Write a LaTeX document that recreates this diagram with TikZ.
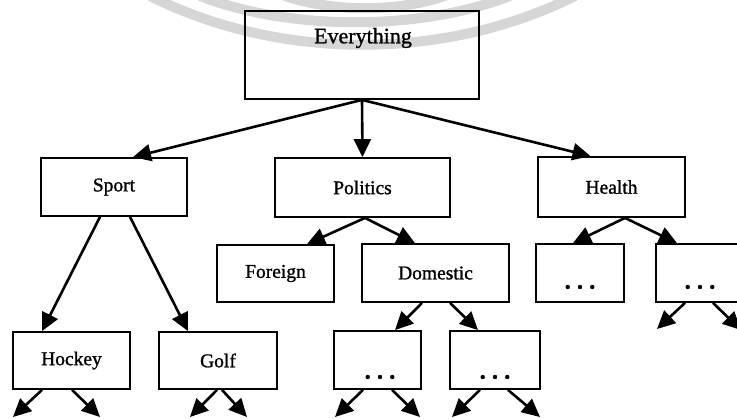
\documentclass[tikz,border=0pt]{standalone}
\usepackage{fontspec}
\setmainfont{Liberation Serif}
\newfontfamily\heavyserif{Liberation Serif}[FakeBold=1.2]
\usetikzlibrary{arrows.meta,calc}
\begin{document}
\begin{tikzpicture}[x=1pt,y=-1pt,
  box/.style={draw=black,line width=1.8pt,inner sep=0pt,font=\heavyserif\fontsize{19.5}{19.5}\selectfont},
  lbl/.style={inner sep=0pt,font=\heavyserif\fontsize{19.5}{19.5}\selectfont},
  dots/.style={inner sep=0pt,font=\heavyserif\bfseries\fontsize{25}{25}\selectfont},
  con/.style={line width=2.6pt,-{Triangle[length=18pt,width=17pt]}},
  wm/.style={line width=10pt,color=black!16}]
\useasboundingbox (0,0) rectangle (737,419);
\clip (0,0) rectangle (737,419);
% watermark arcs
\draw[wm] (150,-4) .. controls (280,61) and (445,61) .. (575,-4);
\draw[wm] (200,-4) .. controls (290,31) and (420,31) .. (510,-4);
\draw[wm] (280,-6) .. controls (330,13) and (400,13) .. (450,-6);
% nodes
\node[box,minimum width=234,minimum height=88] (ev) at (362,55) {};
\node[lbl,font=\heavyserif\fontsize{22}{22}\selectfont] (evt) at (363,38) {Everything};
\node[box,minimum width=146,minimum height=58] (sp) at (114,187) {Sport};
\node[box,minimum width=175,minimum height=59] (po) at (362.5,187.5) {Politics};
\node[box,minimum width=147,minimum height=60] (he) at (611.5,187) {Health};
\node[box,minimum width=117,minimum height=57] (fo) at (275.5,273.5) {Foreign};
\node[box,minimum width=147,minimum height=58] (do) at (435.5,273) {Domestic};
\node[box,minimum width=88,minimum height=58] (h1) at (580,273) {};
\node[dots] (h1t) at (580,287) {.\hspace{6pt}.\hspace{6pt}.};
\node[box,minimum width=88,minimum height=58] (h2) at (700,273) {};
\node[dots] (h2t) at (700,287) {.\hspace{6pt}.\hspace{6pt}.};
\node[box,minimum width=117,minimum height=57] (ho) at (71.5,360.5) {Hockey};
\node[box,minimum width=118,minimum height=57] (go) at (218,360.5) {Golf};
\node[box,minimum width=87,minimum height=58] (d1) at (377.5,360) {};
\node[dots] (d1t) at (380,377) {.\hspace{6pt}.\hspace{6pt}.};
\node[box,minimum width=90,minimum height=58] (d2) at (495,360) {};
\node[dots] (d2t) at (495,377) {.\hspace{6pt}.\hspace{6pt}.};
% free ends
\coordinate (hoL) at (13,417);
\coordinate (hoR) at (100,417);
\coordinate (goL) at (190,417);
\coordinate (goR) at (247,417);
\coordinate (d1L) at (335,417);
\coordinate (d1R) at (420,417);
\coordinate (d2L) at (452,417);
\coordinate (d2R) at (540,417);
\coordinate (h2L) at (657,329);
\coordinate (h2R) at (741,330);
% connectors
\draw[con] (ev.south) -- ($(sp.north)+(19,0)$);
\draw[con] (ev.south) -- (po.north);
\draw[con] (ev.south) -- ($(he.north)+(-21,0)$);
\draw[con] ($(sp.south)+(-14,0)$) -- ($(ho.north)+(-29.5,0)$);
\draw[con] ($(sp.south)+(16,0)$) -- ($(go.north)+(-30,0)$);
\draw[con] ($(po.south)+(2.5,0)$) -- ($(fo.north)+(31.5,0)$);
\draw[con] ($(po.south)+(2.5,0)$) -- ($(do.north)+(-20.5,0)$);
\draw[con] ($(he.south)+(13.5,0)$) -- ($(h1.north)+(-7,0)$);
\draw[con] ($(he.south)+(13.5,0)$) -- ($(h2.north)+(-23,0)$);
\draw[con] ($(do.south)+(-13.5,0)$) -- ($(d1.north)+(17.5,0)$);
\draw[con] ($(do.south)+(14.5,0)$) -- ($(d2.north)+(-17,0)$);
\draw[con] ($(ho.south)+(-29.5,0)$) -- (hoL);
\draw[con] ($(ho.south)+(0.5,0)$) -- (hoR);
\draw[con] ($(go.south)+(-1,0)$) -- (goL);
\draw[con] ($(go.south)+(4,0)$) -- (goR);
\draw[con] ($(d1.south)+(-14.5,0)$) -- (d1L);
\draw[con] ($(d1.south)+(14.5,0)$) -- (d1R);
\draw[con] ($(d2.south)+(-15,0)$) -- (d2L);
\draw[con] ($(d2.south)+(13,0)$) -- (d2R);
\draw[con] ($(h2.south)+(-15,0)$) -- (h2L);
\draw[con] ($(h2.south)+(13,0)$) -- (h2R);
\end{tikzpicture}
\end{document}
